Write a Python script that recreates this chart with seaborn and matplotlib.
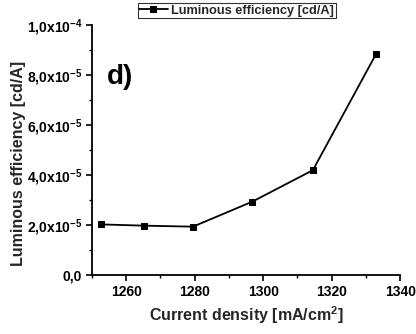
import matplotlib
matplotlib.use("Agg")
import matplotlib.pyplot as plt
import seaborn as sns
import pandas as pd
from matplotlib.ticker import MultipleLocator, FixedLocator, FixedFormatter

current_density = [1252.7, 1265.3, 1279.5, 1296.8, 1314.5, 1333.0]
luminous_eff = [2.02e-5, 1.97e-5, 1.93e-5, 2.93e-5, 4.19e-5, 8.85e-5]
y_ticks = [0.0, 2e-5, 4e-5, 6e-5, 8e-5, 1e-4]
y_tick_labels = ["0,0", r"2,0x10$^{-5}$", r"4,0x10$^{-5}$",
                 r"6,0x10$^{-5}$", r"8,0x10$^{-5}$", r"1,0x10$^{-4}$"]
x_ticks = [1260, 1280, 1300, 1320, 1340]
series_name = "Luminous efficiency [cd/A]"

sns.set_theme(style="ticks")
plt.rcParams["font.family"] = ["Liberation Sans", "DejaVu Sans"]
plt.rcParams["font.weight"] = "bold"
plt.rcParams["mathtext.fontset"] = "custom"
plt.rcParams["mathtext.rm"] = "Liberation Sans:bold"
plt.rcParams["mathtext.it"] = "Liberation Sans:bold"
plt.rcParams["mathtext.bf"] = "Liberation Sans:bold"
plt.rcParams["mathtext.default"] = "rm"

df = pd.DataFrame({"x": current_density, "y": luminous_eff})

fig = plt.figure(figsize=(4.16, 3.34), dpi=100)
ax = fig.add_axes([0.221, 0.177, 0.741, 0.748])
sns.lineplot(data=df, x="x", y="y", marker="s", color="black", markersize=5,
             markeredgecolor="black", linewidth=1.3, ax=ax, label=series_name)

ax.set_xlim(1250, 1340)
ax.set_ylim(0, 1e-4)
ax.xaxis.set_major_locator(FixedLocator(x_ticks))
ax.xaxis.set_minor_locator(MultipleLocator(10))
ax.yaxis.set_major_locator(FixedLocator(y_ticks))
ax.yaxis.set_major_formatter(FixedFormatter(y_tick_labels))
ax.yaxis.set_minor_locator(MultipleLocator(1e-5))
for s in ["top", "right"]:
    ax.spines[s].set_visible(False)
for s in ["left", "bottom"]:
    ax.spines[s].set_color("black")
    ax.spines[s].set_linewidth(1.3)
ax.tick_params(which="major", direction="out", length=4, width=1.2, labelsize=10, colors="black", pad=3)
ax.tick_params(which="minor", direction="out", length=2.5, width=1.0, colors="black")

ax.set_xlabel(r"Current density [mA/cm$^{2}$]", fontsize=11.5, fontweight="bold", labelpad=4)
ax.set_ylabel("Luminous efficiency [cd/A]", fontsize=11.5, fontweight="bold")
ax.yaxis.set_label_coords(-0.215, 0.445)
ax.text(0.05, 0.765, "d)", transform=ax.transAxes, fontsize=20, fontweight="bold", color="black")

leg = ax.legend(loc="upper center", bbox_to_anchor=(0.47, 1.088), frameon=True, fancybox=False,
                fontsize=9.2, handlelength=2.2, borderpad=0.12, handletextpad=0.3, borderaxespad=0)
leg.get_frame().set_edgecolor("black")
leg.get_frame().set_linewidth(0.8)
for t in leg.get_texts():
    t.set_fontweight("bold")

fig.canvas.draw()
for lab in ax.get_xticklabels() + ax.get_yticklabels():
    lab.set_fontweight("bold")

fig.savefig("out.png", dpi=100)
